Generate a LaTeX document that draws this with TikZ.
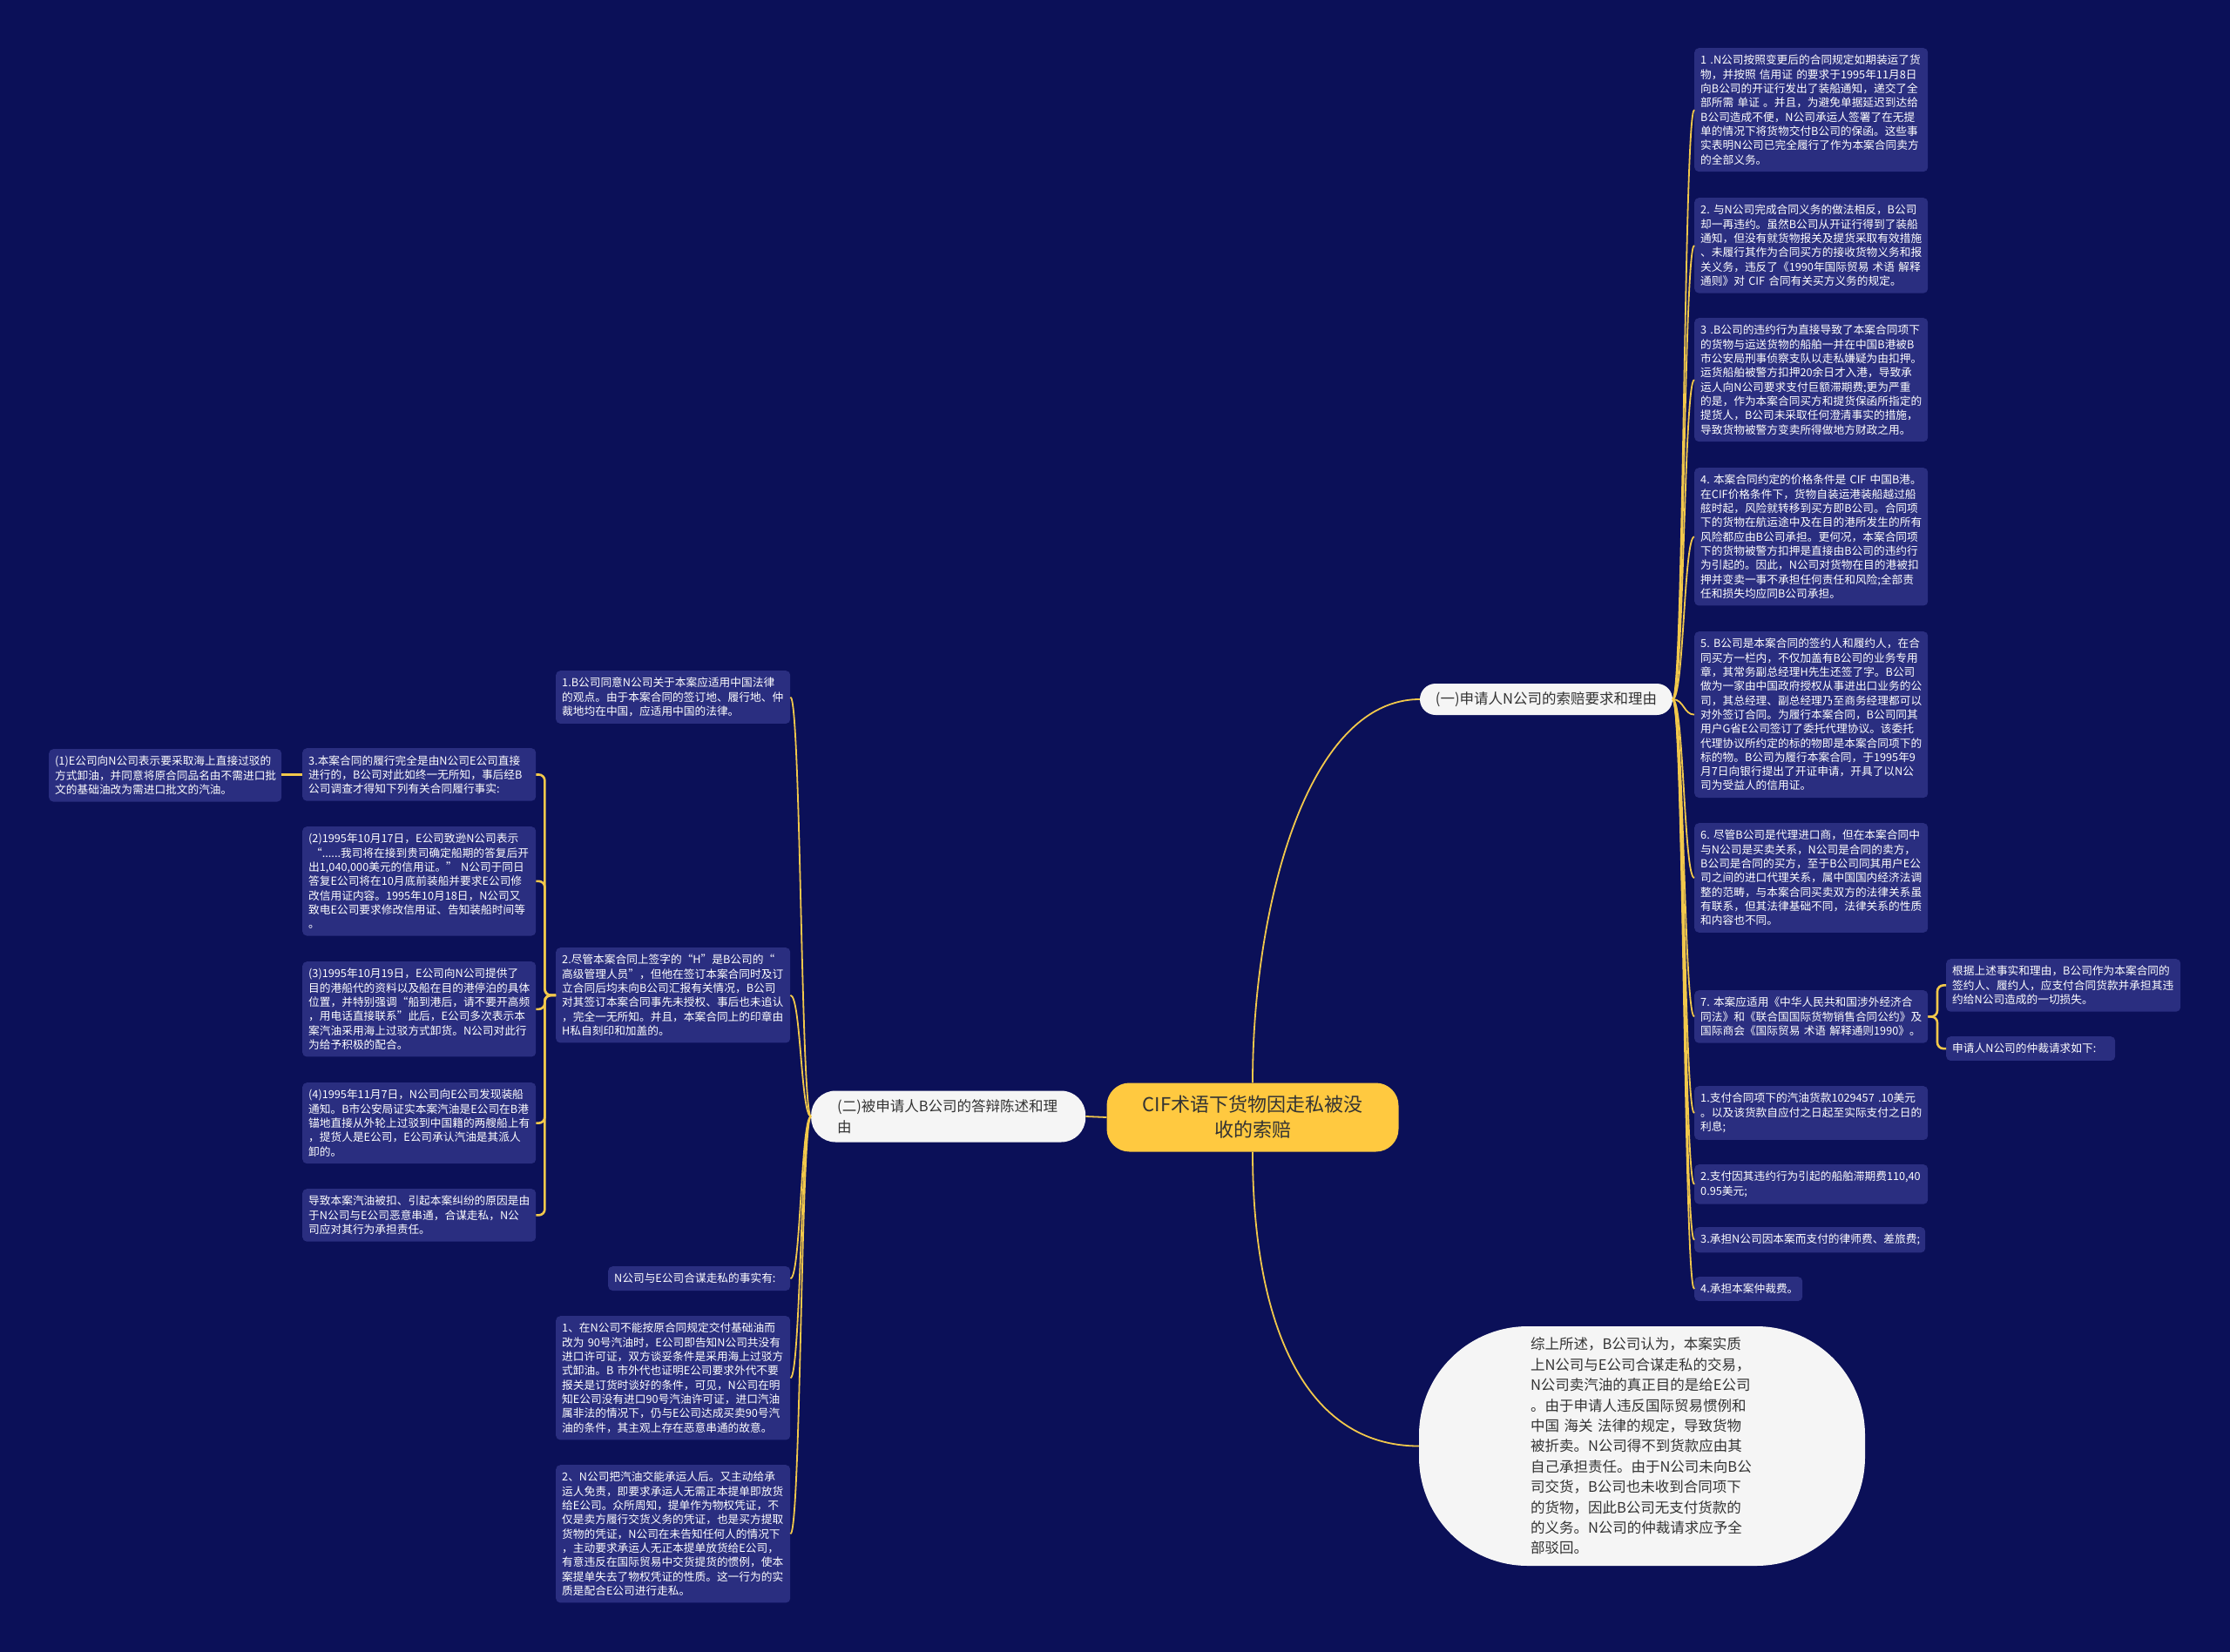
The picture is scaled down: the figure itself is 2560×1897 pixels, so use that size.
\documentclass[tikz,border=0pt]{standalone}
\usepackage{fontspec}
\setmainfont{Noto Sans CJK SC}
\usetikzlibrary{calc}
\definecolor{bgc}{HTML}{0B1058}
\definecolor{boxc}{HTML}{2A2E80}
\definecolor{gold}{HTML}{F2C84B}
\definecolor{rootc}{HTML}{FFC940}
\definecolor{pale}{HTML}{F5F5F5}
\definecolor{ink}{HTML}{333333}
\tikzset{
  box/.style={fill=boxc, rounded corners=5pt, text=white, align=left, anchor=north west,
    inner xsep=7pt, inner ysep=8pt, font=\fontsize{12.7}{16.3}\selectfont},
  lone/.style={draw=gold, line width=1.8pt},
  ltwo/.style={draw=gold, line width=2.6pt, rounded corners=7pt},
  lvone/.style={fill=pale, text=ink, font=\fontsize{16.5}{24.5}\selectfont},
}
\begin{document}
\begin{tikzpicture}[x=1pt,y=-1pt]
\fill[bgc] (0,0) rectangle (2560,1897);
\useasboundingbox (0,0) rectangle (2560,1897);

% level 0 and 1
\node[fill=rootc, text=ink, rounded corners=26pt, minimum width=335pt, minimum height=79pt,
  align=center, font=\fontsize{22}{29}\selectfont] (root) at (1438,1283)
  {CIF术语下货物因走私被没\\收的索赔};
\node[lvone, rounded corners=18pt, minimum width=290pt, minimum height=36pt] (n1) at (1775,803)
  {(一)申请人N公司的索赔要求和理由};
\node[lvone, rounded corners=28pt, anchor=west, text width=255pt, inner xsep=30pt,
  minimum height=59pt, align=left] (n2) at (931,1282)
  {(二)被申请人B公司的答辩陈述和理\\由};
\node[fill=pale, text=ink, rounded corners=125pt, minimum width=512pt, minimum height=275pt,
  text width=256pt, align=left, font=\fontsize{16.5}{23.4}\selectfont] (concl) at (1885,1660.5)
  {综上所述，B公司认为，本案实质\\
上N公司与E公司合谋走私的交易，\\
N公司卖汽油的真正目的是给E公司\\
。由于申请人违反国际贸易惯例和\\
中国~海关~法律的规定，导致货物\\
被折卖。N公司得不到货款应由其\\
自己承担责任。由于N公司未向B公\\
司交货，B公司也未收到合同项下\\
的货物，因此B公司无支付货款的\\
的义务。N公司的仲裁请求应予全\\
部驳回。};

% right column
\node[box, text width=254pt] (r1) at (1945,55)
{1~.N公司按照变更后的合同规定如期装运了货\\
物，并按照~信用证~的要求于1995年11月8日\\
向B公司的开证行发出了装船通知，递交了全\\
部所需~单证~。并且，为避免单据延迟到达给\\
B公司造成不便，N公司承运人签署了在无提\\
单的情况下将货物交付B公司的保函。这些事\\
实表明N公司已完全履行了作为本案合同卖方\\
的全部义务。};
\node[box, text width=254pt] (r2) at (1945,227)
{2.~与N公司完成合同义务的做法相反，B公司\\
却一再违约。虽然B公司从开证行得到了装船\\
通知，但没有就货物报关及提货采取有效措施\\
、未履行其作为合同买方的接收货物义务和报\\
关义务，违反了《1990年国际贸易~术语~解释\\
通则》对~CIF~合同有关买方义务的规定。};
\node[box, text width=254pt] (r3) at (1945,365)
{3~.B公司的违约行为直接导致了本案合同项下\\
的货物与运送货物的船舶一并在中国B港被B\\
市公安局刑事侦察支队以走私嫌疑为由扣押。\\
运货船舶被警方扣押20余日才入港，导致承\\
运人向N公司要求支付巨额滞期费;更为严重\\
的是，作为本案合同买方和提货保函所指定的\\
提货人，B公司未采取任何澄清事实的措施，\\
导致货物被警方变卖所得做地方财政之用。};
\node[box, text width=254pt] (r4) at (1945,537)
{4.~本案合同约定的价格条件是~CIF~中国B港。\\
在CIF价格条件下，货物自装运港装船越过船\\
舷时起，风险就转移到买方即B公司。合同项\\
下的货物在航运途中及在目的港所发生的所有\\
风险都应由B公司承担。更何况，本案合同项\\
下的货物被警方扣押是直接由B公司的违约行\\
为引起的。因此，N公司对货物在目的港被扣\\
押并变卖一事不承担任何责任和风险;全部责\\
任和损失均应同B公司承担。};
\node[box, text width=254pt] (r5) at (1945,725)
{5.~B公司是本案合同的签约人和履约人，在合\\
同买方一栏内，不仅加盖有B公司的业务专用\\
章，其常务副总经理H先生还签了字。B公司\\
做为一家由中国政府授权从事进出口业务的公\\
司，其总经理、副总经理乃至商务经理都可以\\
对外签订合同。为履行本案合同，B公司同其\\
用户G省E公司签订了委托代理协议。该委托\\
代理协议所约定的标的物即是本案合同项下的\\
标的物。B公司为履行本案合同，于1995年9\\
月7日向银行提出了开证申请，开具了以N公\\
司为受益人的信用证。};
\node[box, text width=254pt] (r6) at (1945,945)
{6.~尽管B公司是代理进口商，但在本案合同中\\
与N公司是买卖关系，N公司是合同的卖方，\\
B公司是合同的买方，至于B公司同其用户E公\\
司之间的进口代理关系，属中国国内经济法调\\
整的范畴，与本案合同买卖双方的法律关系虽\\
有联系，但其法律基础不同，法律关系的性质\\
和内容也不同。};
\node[box, text width=254pt] (r7) at (1945,1137)
{7.~本案应适用《中华人民共和国涉外经济合\\
同法》和《联合国国际货物销售合同公约》及\\
国际商会《国际贸易~术语~解释通则1990》。};
\node[box, text width=255pt] (s7a) at (2234,1101)
{根据上述事实和理由，B公司作为本案合同的\\
签约人、履约人，应支付合同货款并承担其违\\
约给N公司造成的一切损失。};
\node[box, text width=180pt] (s7b) at (2234,1190)
{申请人N公司的仲裁请求如下:};
\node[box, text width=254pt] (i1) at (1945,1247)
{1.支付合同项下的汽油货款1029457~.10美元\\
。以及该货款自应付之日起至实际支付之日的\\
利息;};
\node[box, text width=254pt] (i2) at (1945,1337)
{2.支付因其违约行为引起的船舶滞期费110,40\\
0.95美元;};
\node[box, text width=251pt] (i3) at (1945,1409)
{3.承担N公司因本案而支付的律师费、差旅费;};
\node[box, text width=110pt] (i4) at (1945,1466)
{4.承担本案仲裁费。};

% middle column
\node[box, text width=255pt] (m1) at (638,770)
{1.B公司同意N公司关于本案应适用中国法律\\
的观点。由于本案合同的签订地、履行地、仲\\
裁地均在中国，应适用中国的法律。};
\node[box, text width=255pt] (m2) at (638,1088)
{2.尽管本案合同上签字的“H”是B公司的“\\
高级管理人员”，但他在签订本案合同时及订\\
立合同后均未向B公司汇报有关情况，B公司\\
对其签订本案合同事先未授权、事后也未追认\\
，完全一无所知。并且，本案合同上的印章由\\
H私自刻印和加盖的。};
\node[box, text width=195pt] (m3) at (698,1454)
{N公司与E公司合谋走私的事实有:};
\node[box, text width=255pt] (m4) at (638,1511)
{1、在N公司不能按原合同规定交付基础油而\\
改为~90号汽油时，E公司即告知N公司共没有\\
进口许可证，双方谈妥条件是采用海上过驳方\\
式卸油。B~市外代也证明E公司要求外代不要\\
报关是订货时谈好的条件，可见，N公司在明\\
知E公司没有进口90号汽油许可证，进口汽油\\
属非法的情况下，仍与E公司达成买卖90号汽\\
油的条件，其主观上存在恶意串通的故意。};
\node[box, text width=255pt] (m5) at (638,1682)
{2、N公司把汽油交能承运人后。又主动给承\\
运人免责，即要求承运人无需正本提单即放货\\
给E公司。众所周知，提单作为物权凭证，不\\
仅是卖方履行交货义务的凭证，也是买方提取\\
货物的凭证，N公司在未告知任何人的情况下\\
，主动要求承运人无正本提单放货给E公司，\\
有意违反在国际贸易中交货提货的惯例，使本\\
案提单失去了物权凭证的性质。这一行为的实\\
质是配合E公司进行走私。};

% left column
\node[box, text width=254pt] (la) at (347,859)
{3.本案合同的履行完全是由N公司E公司直接\\
进行的，B公司对此如终一无所知，事后经B\\
公司调查才得知下列有关合同履行事实:};
\node[box, text width=254pt] (lb) at (347,949)
{(2)1995年10月17日，E公司致逊N公司表示\\
\hspace*{3pt}“......我司将在接到贵司确定船期的答复后开\\
出1,040,000美元的信用证。”~N公司于同日\\
答复E公司将在10月底前装船并要求E公司修\\
改信用证内容。1995年10月18日，N公司又\\
致电E公司要求修改信用证、告知装船时间等\\
。};
\node[box, text width=254pt] (lc) at (347,1104)
{(3)1995年10月19日，E公司向N公司提供了\\
目的港船代的资料以及船在目的港停泊的具体\\
位置，并特别强调“船到港后，请不要开高频\\
，用电话直接联系”此后，E公司多次表示本\\
案汽油采用海上过驳方式卸货。N公司对此行\\
为给予积极的配合。};
\node[box, text width=254pt] (ld) at (347,1243)
{(4)1995年11月7日，N公司向E公司发现装船\\
通知。B市公安局证实本案汽油是E公司在B港\\
锚地直接从外轮上过驳到中国籍的两艘船上有\\
，提货人是E公司，E公司承认汽油是其派人\\
卸的。};
\node[box, text width=254pt] (le) at (347,1365)
{导致本案汽油被扣、引起本案纠纷的原因是由\\
于N公司与E公司恶意串通，合谋走私，N公\\
司应对其行为承担责任。};
\node[box, text width=253pt] (f1) at (56,860)
{(1)E公司向N公司表示要采取海上直接过驳的\\
方式卸油，并同意将原合同品名由不需进口批\\
文的基础油改为需进口批文的汽油。};

% connectors
\draw[lone] (root.west) -- (n2.east);
\draw[lone] (root.north) .. controls +(0,-200) and +(-130,0) .. (n1.west);
\draw[lone] (root.south) .. controls +(0,200) and +(-130,0) .. (concl.west);
\foreach \c in {r1,r2,r3,r4,r5,r6,r7,i1,i2,i3,i4}
  \draw[lone] (n1.east) .. controls ($(n1.east -| \c.west)+(-12,0)$) and ($(\c.west)+(-12,0)$) .. (\c.west);
\foreach \c in {m1,m2,m3,m4,m5}
  \draw[lone] (n2.west) .. controls ($(n2.west -| \c.east)+(12,0)$) and ($(\c.east)+(12,0)$) .. (\c.east);
\foreach \c in {la,lb,lc,ld,le}
  \draw[ltwo] (m2.west) -| ($(\c.east)+(10,0)$) -- (\c.east);
\foreach \c in {s7a,s7b}
  \draw[ltwo] (r7.east) -| ($(\c.west)+(-10,0)$) -- (\c.west);
\draw[ltwo] (la.west) -- (la.west -| f1.east);
\end{tikzpicture}
\end{document}
